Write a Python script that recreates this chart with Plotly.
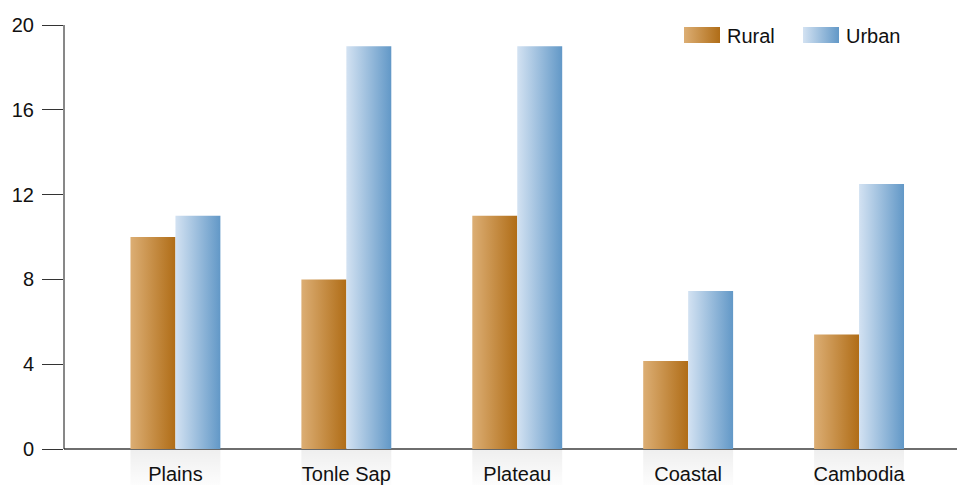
import plotly.graph_objects as go

# Share of households (%) by region
regions = ["Plains", "Tonle Sap", "Plateau", "Coastal", "Cambodia"]
rural = [10, 8, 11, 4.15, 5.4]
urban = [11, 19, 19, 7.45, 12.5]
y_ticks = [0, 4, 8, 12, 16, 20]

FONT = "Liberation Sans, Arial, Helvetica, sans-serif"
RURAL_GRAD = [[0, "#dcae74"], [1, "#b06d17"]]
URBAN_GRAD = [[0, "#d3e2f2"], [1, "#6298c7"]]

BAR_W = 0.263          # width of one bar in category units
Y_MIN = -1.698         # room below zero for the floor reflection
pos = list(range(len(regions)))

fig = go.Figure()


def rect(x0, x1, y0, y1):
    return [x0, x1, x1, x0, x0], [y0, y0, y1, y1, y0]


# Grouped bars with a horizontal gradient, plus a faint floor reflection
for name, c, r, u in zip(regions, pos, rural, urban):
    xs, ys = rect(c - BAR_W, c, 0, r)
    fig.add_trace(go.Scatter(x=xs, y=ys, mode="none", fill="toself",
                             line=dict(width=0),
                             fillgradient=dict(type="horizontal", colorscale=RURAL_GRAD),
                             name=f"Rural – {name}", showlegend=False,
                             hoveron="fills", text=f"Rural {name}: {r}"))
    xs, ys = rect(c, c + BAR_W, 0, u)
    fig.add_trace(go.Scatter(x=xs, y=ys, mode="none", fill="toself",
                             line=dict(width=0),
                             fillgradient=dict(type="horizontal", colorscale=URBAN_GRAD),
                             name=f"Urban – {name}", showlegend=False,
                             hoveron="fills", text=f"Urban {name}: {u}"))
    xs, ys = rect(c - BAR_W, c + BAR_W, Y_MIN, 0)
    fig.add_trace(go.Scatter(x=xs, y=ys, mode="none", fill="toself",
                             line=dict(width=0),
                             fillgradient=dict(type="vertical",
                                               colorscale=[[0, "rgba(0,0,0,0.01)"],
                                                           [1, "rgba(0,0,0,0.065)"]]),
                             showlegend=False, hoverinfo="skip"))

# Legend drawn on a pixel-space overlay
legend_items = [("Rural", RURAL_GRAD, 684), ("Urban", URBAN_GRAD, 803)]
for label, grad, x0 in legend_items:
    xs, ys = rect(x0, x0 + 36, 27, 43)
    fig.add_trace(go.Scatter(x=xs, y=ys, xaxis="x2", yaxis="y2", mode="none",
                             fill="toself", line=dict(width=0),
                             fillgradient=dict(type="horizontal", colorscale=grad),
                             showlegend=False, hoverinfo="skip"))
    fig.add_annotation(x=x0 + 41, y=35.5, xref="x2", yref="y2", text=label,
                       showarrow=False, xanchor="left", yanchor="middle",
                       font=dict(family=FONT, size=20, color="#111"))

fig.update_layout(
    width=957, height=485,
    margin=dict(l=64, r=0, t=25, b=0, autoexpand=False),
    paper_bgcolor="white", plot_bgcolor="white",
    showlegend=False,
    font=dict(family=FONT, size=20, color="#111"),
    xaxis=dict(range=[-0.652, 4.573], tickvals=pos, ticktext=regions,
               showgrid=False, zeroline=False, showline=False, ticks="",
               ticklabelposition="inside", ticklabelstandoff=-3, fixedrange=True,
               tickfont=dict(family=FONT, size=20, color="#111")),
    yaxis=dict(range=[Y_MIN, 20], tickvals=y_ticks, showgrid=False,
               zeroline=True, zerolinecolor="#6e6e6e", zerolinewidth=1.5,
               showline=False, ticks="outside", ticklen=21, tickcolor="#333",
               tickwidth=1, ticklabelstandoff=4, fixedrange=True,
               tickfont=dict(family=FONT, size=20, color="#111")),
    xaxis2=dict(overlaying="x", range=[64, 957], visible=False, fixedrange=True),
    yaxis2=dict(overlaying="y", range=[485, 25], visible=False, fixedrange=True),
    shapes=[dict(type="line", xref="paper", yref="y", x0=0, x1=0, y0=0, y1=20,
                 line=dict(color="#111", width=1))],
)

fig.write_html("out.html")
